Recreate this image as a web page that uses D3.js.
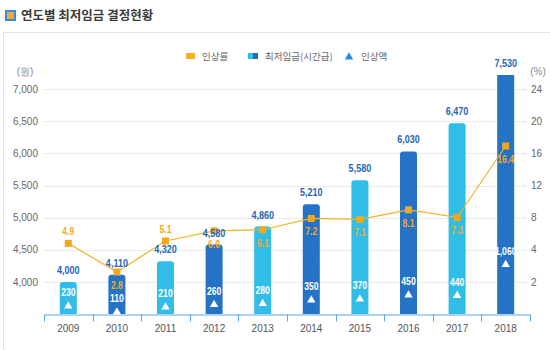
<!DOCTYPE html>
<html>
<head>
<meta charset="utf-8">
<script src="https://cdn.jsdelivr.net/npm/d3@7"></script>
<style>
  body { margin: 0; background: #fff; }
  svg { display: block; }
  .num { font-family: 'Liberation Sans', Arial, sans-serif; }
  .kr { font-family: 'Noto Sans CJK KR', sans-serif; }
</style>
</head>
<body>
<div id="chart"></div>
<script>
// 데이터
const years = ['2009', '2010', '2011', '2012', '2013', '2014', '2015', '2016', '2017', '2018'];
const minWage = [4000, 4110, 4320, 4580, 4860, 5210, 5580, 6030, 6470, 7530];   // 최저임금(시간급)
const raiseRate = [4.9, 2.8, 5.1, 6.0, 6.1, 7.2, 7.1, 8.1, 7.3, 16.4];        // 인상률
const raiseAmt = [230, 110, 210, 260, 280, 350, 370, 450, 440, 1060];         // 인상액
const leftTicks = [4000, 4500, 5000, 5500, 6000, 6500, 7000];
const rightTickLabels = ['2', '4', '8', '12', '16', '20', '24'];

const width = 550, height = 350;
const plot = { left: 44, right: 530, top: 75, bottom: 314 };
const squeeze = 0.82;  // 숫자 라벨 좁게

const svg = d3.select('#chart').append('svg')
  .attr('width', width)
  .attr('height', height);

// 패턴 (진한 막대 질감)
const defs = svg.append('defs');
const pat = defs.append('pattern')
  .attr('id', 'dots')
  .attr('width', 3).attr('height', 3)
  .attr('patternUnits', 'userSpaceOnUse');
pat.append('rect').attr('width', 3).attr('height', 3).attr('fill', '#1f6cc0');
pat.append('rect').attr('width', 1.5).attr('height', 1.5).attr('fill', '#2b79cc');
pat.append('rect').attr('x', 1.5).attr('y', 1.5).attr('width', 1.5).attr('height', 1.5).attr('fill', '#2b79cc');

defs.append('clipPath')
  .attr('id', 'clip')
  .append('rect')
  .attr('x', plot.left)
  .attr('y', plot.top)
  .attr('width', plot.right - plot.left)
  .attr('height', plot.bottom - plot.top);

// 제목 영역
svg.append('rect')
  .attr('x', 3.5).attr('y', 32.5)
  .attr('width', width).attr('height', height)
  .attr('fill', 'none')
  .attr('stroke', '#e2e2e2');

svg.append('rect').attr('x', 5).attr('y', 10).attr('width', 11).attr('height', 11).attr('fill', '#3a8ad6');
svg.append('rect').attr('x', 7).attr('y', 12).attr('width', 7).attr('height', 7).attr('fill', '#f2a93b');
svg.append('text')
  .attr('class', 'kr')
  .attr('x', 21).attr('y', 20)
  .style('font-size', '12.5px')
  .style('font-weight', 'bold')
  .attr('fill', '#3a3a3a')
  .text('연도별 최저임금 결정현황');

// 스케일
const x = d3.scaleBand()
  .domain(years)
  .range([plot.left, plot.right])
  .paddingInner(0.65)
  .paddingOuter(0.325);

const y = d3.scaleLinear()
  .domain([3500, 7220])
  .range([plot.bottom, plot.top]);

// 인상률 선은 별도 비율 (원본 그림에 맞춤)
const yPct = d3.scaleSqrt()
  .domain([d3.min(raiseRate), d3.max(raiseRate)])
  .range([272, 146]);

const yAmt = d3.scaleLinear()
  .domain([0, 1000])
  .range([317.5, 267.5]);

const cx = d => x(d.year) + x.bandwidth() / 2;

// 격자
svg.append('g')
  .selectAll('line')
  .data(leftTicks)
  .enter().append('line')
  .attr('x1', plot.left)
  .attr('x2', plot.right - 10)
  .attr('y1', d => Math.round(y(d)) + 0.5)
  .attr('y2', d => Math.round(y(d)) + 0.5)
  .attr('stroke', '#ebebeb');

// 왼쪽 축
const yAxisL = svg.append('g')
  .attr('class', 'num')
  .attr('transform', `translate(${plot.left},0)`)
  .call(d3.axisLeft(y).tickValues(leftTicks).tickSize(0).tickPadding(6).tickFormat(d3.format(',')));
yAxisL.select('.domain').remove();
yAxisL.selectAll('text').style('font-size', '10px').attr('fill', '#666');

// 오른쪽 축 (눈금 라벨은 격자선에 붙음)
const yAxisR = svg.append('g')
  .attr('class', 'num')
  .attr('transform', `translate(${plot.right - 9},0)`)
  .call(d3.axisRight(y).tickValues(leftTicks).tickSize(6).tickPadding(4)
    .tickFormat((d, i) => rightTickLabels[i]));
yAxisR.select('.domain').remove();
yAxisR.selectAll('line').attr('stroke', '#e4e4e4');
yAxisR.selectAll('text').style('font-size', '10px').attr('fill', '#666');

svg.append('text').attr('class', 'num')
  .attr('x', 25).attr('y', 75)
  .attr('text-anchor', 'middle')
  .style('font-size', '10px').attr('fill', '#888')
  .text('(원)');
svg.append('text').attr('class', 'num')
  .attr('x', 538).attr('y', 75)
  .attr('text-anchor', 'middle')
  .style('font-size', '10px').attr('fill', '#888')
  .text('(%)');

// 막대
const barData = years.map((yr, i) => ({ year: yr, wage: minWage[i], rate: raiseRate[i], amt: raiseAmt[i], i }));

svg.append('g')
  .attr('clip-path', 'url(#clip)')
  .selectAll('rect')
  .data(barData)
  .enter().append('rect')
  .attr('x', d => x(d.year))
  .attr('y', d => y(d.wage))
  .attr('width', x.bandwidth())
  .attr('height', d => plot.bottom - y(d.wage) + 5)
  .attr('rx', 3)
  .attr('fill', d => d.i % 2 === 0 ? '#31bde8' : 'url(#dots)');

// 좁은 숫자 라벨
function numLabels(sel, yFn, color, size, fmt) {
  sel.append('g')
    .selectAll('text')
    .data(barData)
    .enter().append('text')
    .attr('class', 'num')
    .attr('transform', d => `translate(${cx(d)},${yFn(d)}) scale(${squeeze},1)`)
    .attr('text-anchor', 'middle')
    .style('font-size', size)
    .style('font-weight', 'bold')
    .attr('fill', color)
    .text(fmt);
}

// X 축
const xAxis = svg.append('g')
  .attr('class', 'num')
  .attr('transform', `translate(0,${plot.bottom + 0.5})`)
  .call(d3.axisBottom(x).tickSize(0).tickPadding(10));
xAxis.select('.domain').attr('stroke', '#5ea6e2');
xAxis.selectAll('text').style('font-size', '10px').attr('fill', '#555');
xAxis.selectAll('.band-tick')
  .data(d3.range(years.length + 1))
  .enter().append('line')
  .attr('class', 'band-tick')
  .attr('x1', d => Math.round(plot.left + d * x.step()) + 0.5)
  .attr('x2', d => Math.round(plot.left + d * x.step()) + 0.5)
  .attr('y1', 0).attr('y2', 7)
  .attr('stroke', '#5ea6e2');

// 인상액 삼각형
const tri = d3.symbol().type(d3.symbolTriangle).size(30);
svg.append('g')
  .selectAll('path')
  .data(barData)
  .enter().append('path')
  .attr('d', tri)
  .attr('transform', d => `translate(${cx(d)},${yAmt(d.amt)})`)
  .attr('fill', '#fff');

numLabels(svg, d => yAmt(d.amt) - 10, '#fff', '10.5px', d => d3.format(',')(d.amt));

// 인상률 선
const line = d3.line()
  .x(cx)
  .y(d => yPct(d.rate));

svg.append('path')
  .datum(barData)
  .attr('d', line)
  .attr('fill', 'none')
  .attr('stroke', '#f5b324')
  .attr('stroke-width', 1.2);

svg.append('g')
  .selectAll('rect')
  .data(barData)
  .enter().append('rect')
  .attr('x', d => cx(d) - 3.5)
  .attr('y', d => yPct(d.rate) - 3.5)
  .attr('width', 7).attr('height', 7)
  .attr('fill', '#f2a81d');

// 막대 위 값 (선 위에 그림)
numLabels(svg, d => Math.max(y(d.wage), plot.top) - 8, '#2466b5', '11px', d => d3.format(',')(d.wage));

// 인상률 값: 막대 위로 떨어져 있으면 위, 아니면 아래
numLabels(svg, d => yPct(d.rate) < y(d.wage) - 14 ? yPct(d.rate) - 8 : yPct(d.rate) + 17,
  '#f2a81d', '10.5px', d => d3.format('.1f')(d.rate));

// 범례
const legend = svg.append('g').attr('class', 'kr').style('font-size', '9.5px');
legend.append('rect').attr('x', 186).attr('y', 53).attr('width', 9).attr('height', 6).attr('fill', '#f5b324');
legend.append('text').attr('x', 202).attr('y', 60).attr('fill', '#666').text('인상률');
legend.append('rect').attr('x', 248).attr('y', 53).attr('width', 5).attr('height', 6).attr('fill', '#31bde8');
legend.append('rect').attr('x', 253).attr('y', 53).attr('width', 5).attr('height', 6).attr('fill', '#1f6cc0');
legend.append('text').attr('x', 265).attr('y', 60).attr('fill', '#666').text('최저임금(시간급)');
legend.append('path')
  .attr('d', d3.symbol().type(d3.symbolTriangle).size(30))
  .attr('transform', 'translate(349,57)')
  .attr('fill', '#1f8ee0');
legend.append('text').attr('x', 361).attr('y', 60).attr('fill', '#666').text('인상액');
</script>
</body>
</html>
